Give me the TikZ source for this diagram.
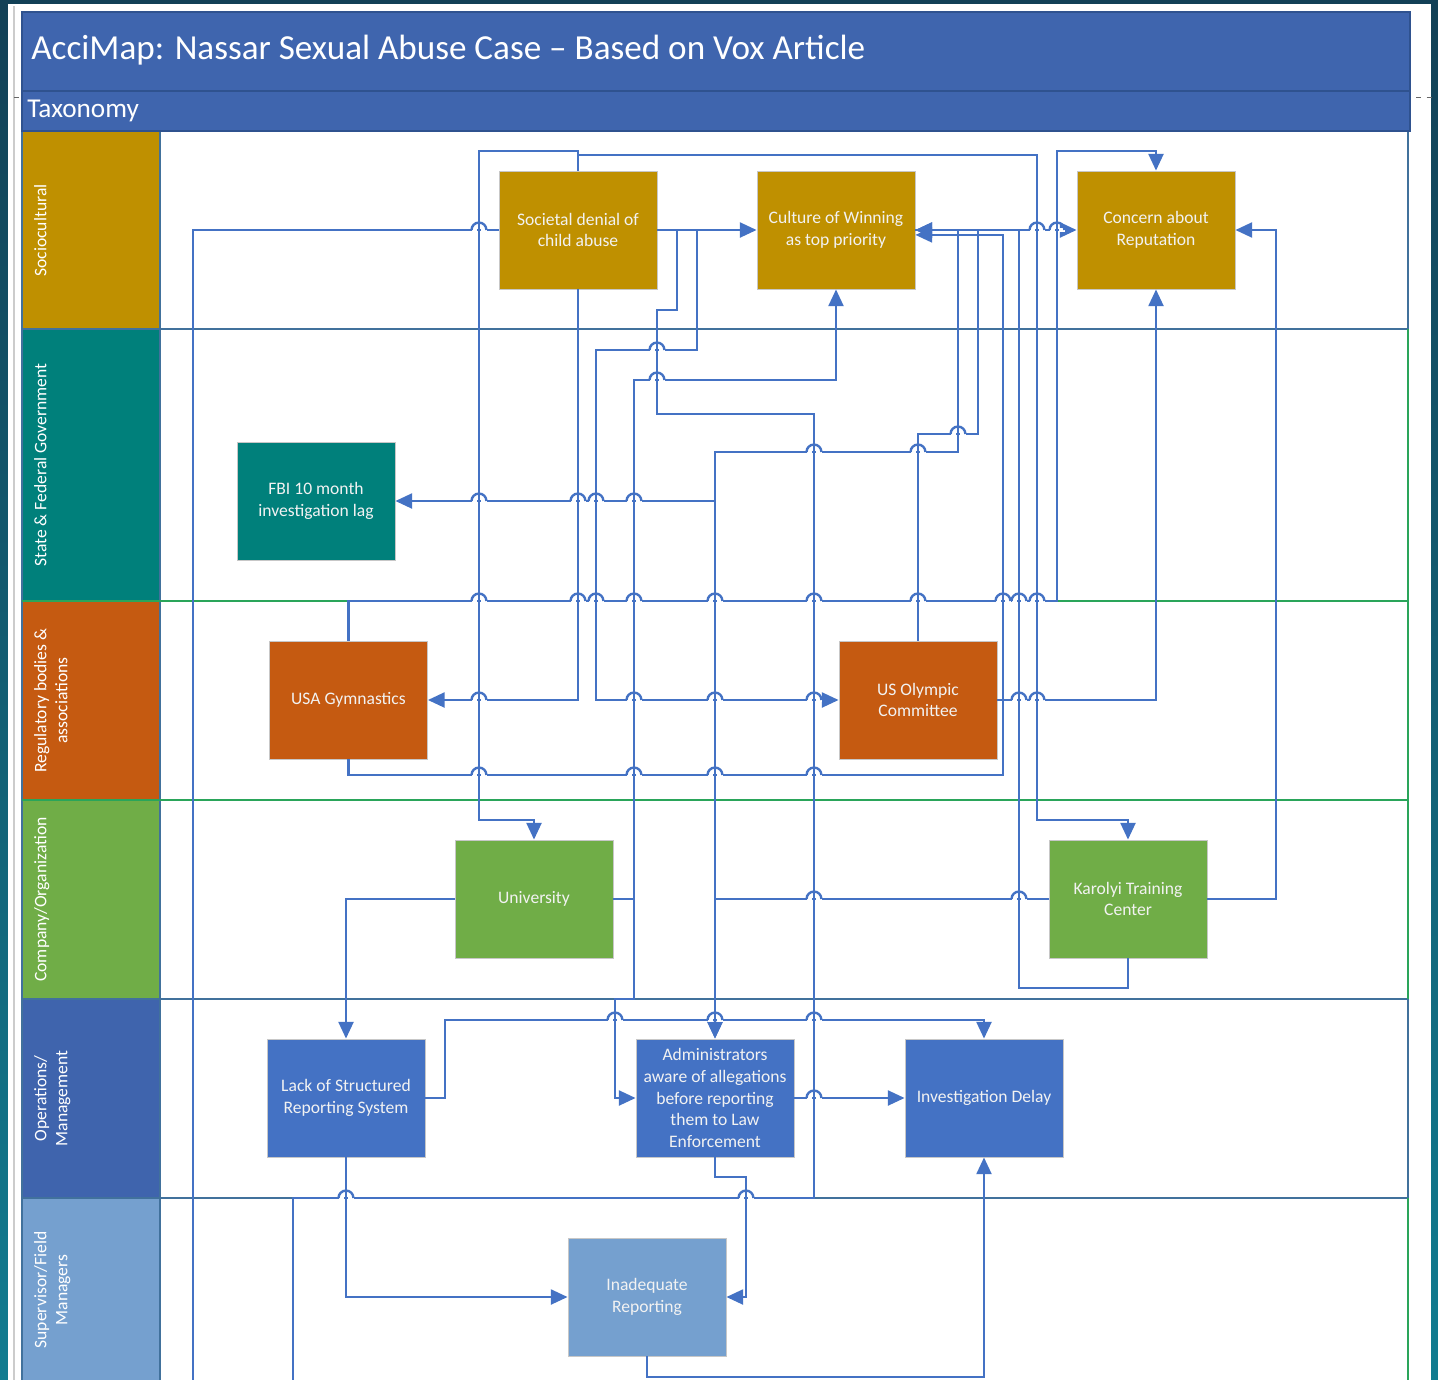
\documentclass[tikz,border=0pt]{standalone}
\usepackage{fontspec}
\setmainfont{Carlito}
\usetikzlibrary{arrows.meta}

\definecolor{linkblue}{HTML}{4472C4}
\definecolor{bandblue}{HTML}{3F65AE}
\definecolor{bandline}{HTML}{2F528F}
\definecolor{socgold}{HTML}{BF9000}
\definecolor{govteal}{HTML}{00807B}
\definecolor{regorange}{HTML}{C55A11}
\definecolor{orggreen}{HTML}{70AD47}
\definecolor{opsblue}{HTML}{3F64AD}
\definecolor{supblue}{HTML}{75A0CF}
\definecolor{lanegreen}{HTML}{2AA55A}
\definecolor{lanedark}{HTML}{41719C}
\definecolor{frameteal}{HTML}{17506B}

\tikzset{
  cause/.style={draw=black!22, line width=0.5pt, minimum width=3.16cm, minimum height=2.36cm,
    inner sep=1pt, align=center, text=white!95!black, font=\fontsize{10}{12.4}\selectfont},
  lanelabel/.style={rotate=90, anchor=north, align=center, inner sep=1pt, text=white,
    font=\fontsize{10}{12}\selectfont},
  link/.style={draw=linkblue, line width=1.35pt},
  arrowed/.style={-{Triangle[length=9.5pt,width=8.5pt]}},
}

% one swimlane: top, bottom, colour, label, name
\newcommand{\drawlane}[5]{%
  \fill[#3] (22,#1) rectangle (160,#2);
  \node[lanelabel] (#5) at (32,{(#1+#2)/2}) {#4};
}

\begin{document}
\begin{tikzpicture}[x=0.02cm, y=-0.02cm]
\useasboundingbox (0,0) rectangle (1438,1380);

% frame
\shade[top color=frameteal!80!black, bottom color=frameteal!75!cyan] (0,0) rectangle (1438,1380);
\fill[white] (8,4) rectangle (1431,1380);
\draw[black!20, line width=0.6pt] (14,6) -- (14,1380);
\draw[black!60, dashed, line width=0.5pt] (14,97) -- (1432,97);

% title and taxonomy bands
\fill[bandblue] (22,12) rectangle (1410,131);
\draw[bandline, line width=0.8pt] (22,12) rectangle (1410,131) (22,91) -- (1410,91);
\node[anchor=west, inner sep=0, text=white, font=\fontsize{20}{24}\selectfont] (title) at (31,50)
  {AcciMap: Nassar Sexual Abuse Case – Based on Vox Article};
\node[anchor=west, inner sep=0, text=white, font=\fontsize{15.5}{18}\selectfont] (taxonomy) at (27,111) {Taxonomy};

% lanes
\drawlane{132}{329}{socgold}{Sociocultural}{lsoc}
\drawlane{329}{601}{govteal}{State \& Federal Government}{lgov}
\drawlane{601}{800}{regorange}{Regulatory bodies \&\\associations}{lreg}
\drawlane{800}{999}{orggreen}{Company/Organization}{lorg}
\drawlane{999}{1198}{opsblue}{Operations/\\Management}{lops}
\drawlane{1198}{1382}{supblue}{Supervisor/Field\\Managers}{lsup}

\draw[lanedark, line width=0.9pt] (22,132) -- (22,1382) (160,132) -- (160,1382)
  (22,329) -- (1408,329) (22,999) -- (1408,999) (22,1198) -- (1408,1198)
  (1408,132) -- (1408,329) (1408,999) -- (1408,1198);
\draw[lanegreen, line width=0.9pt] (22,601) -- (1408,601) (22,800) -- (1408,800)
  (1408,329) -- (1408,999) (1408,1198) -- (1408,1382);

% causal factors
\node[cause, fill=socgold] (denial) at (578,230) {Societal denial of\\child abuse};
\node[cause, fill=socgold] (winning) at (836,230) {Culture of Winning\\as top priority};
\node[cause, fill=socgold] (reputation) at (1156,230) {Concern about\\Reputation};
\node[cause, fill=govteal] (fbi) at (316,501) {FBI 10 month\\investigation lag};
\node[cause, fill=regorange] (usag) at (348.5,700) {USA Gymnastics};
\node[cause, fill=regorange] (usoc) at (918,700) {US Olympic\\Committee};
\node[cause, fill=orggreen] (univ) at (534,899) {University};
\node[cause, fill=orggreen] (karolyi) at (1128,899) {Karolyi Training\\Center};
\node[cause, fill=linkblue] (lackrep) at (346,1098) {Lack of Structured\\Reporting System};
\node[cause, fill=linkblue] (admins) at (715,1098) {Administrators\\aware of allegations\\before reporting\\them to Law\\Enforcement};
\node[cause, fill=linkblue] (invdelay) at (984,1098) {Investigation Delay};
\node[cause, fill=supblue] (inadrep) at (647,1297) {Inadequate\\Reporting};

\coordinate (exitA) at (193,1382);
\coordinate (exitB) at (293,1382);
\coordinate (fbijoin) at (715,501);
\coordinate (ktcjoin) at (1019,230);

% links
\draw[link, arrowed] (denial.north) |- (479,151) |- (534,820) -- (univ.north);
\draw[link, arrowed] (denial.north) |- (1037,155) |- (1128,820) -- (karolyi.north);
\draw[link, arrowed] (denial.south) |- (usag.east);
\draw[link, arrowed] (denial.east) -- (winning.west);
\draw[link] (denial.east) -| (677,310) -| (657,414) -| (814,1198) -| (exitB);
\draw[link, arrowed] (denial.east) -| (697,350) -| (596,700) -- (usoc.west);
\draw[link] (exitA) |- (denial.west);
\draw[link, arrowed] (univ.east) -| (634,380) -| (winning.south);
\draw[link, arrowed] (univ.east) -| (634,999) -| (615,1098) -- (admins.west);
\draw[link, arrowed] (univ.west) -| (lackrep.north);
\draw[link, arrowed] (lackrep.east) -| (445,1020) -| (invdelay.north);
\draw[link, arrowed] (winning.east) -| (958,452) -| (admins.north);
\draw[link, arrowed] (fbijoin) -- (fbi.east);
\draw[link, arrowed] (usoc.north) |- (978,434) |- (winning.east);
\draw[link, arrowed] (usag.south) |- (1003,775) |- ([yshift=-2.8pt]winning.east);
\draw[link, arrowed] (usag.north) |- (1057,601) |- (1156,151) -- (reputation.north);
\draw[link, arrowed] (usoc.east) -| (reputation.south);
\draw[link, arrowed] (karolyi.east) -| (1276,230) -- (reputation.east);
\draw[link, arrowed] (karolyi.south) |- (1019,988) |- (reputation.west);
\draw[link, arrowed] (ktcjoin) -- (winning.east);
\draw[link, arrowed] (karolyi.west) -| (admins.north);
\draw[link, arrowed] (admins.east) -- (invdelay.west);
\draw[link, arrowed] (admins.south) |- (746,1177) |- (inadrep.east);
\draw[link, arrowed] (lackrep.south) |- (inadrep.west);
\draw[link, arrowed] (inadrep.south) |- (984,1377) -- (invdelay.south);

% line jumps
\foreach \hx/\hy in {479/230, 1037/230, 1057/230, 657/350, 657/380, 958/434, 814/452, 918/452,
  479/501, 578/501, 596/501, 634/501,
  479/601, 578/601, 596/601, 634/601, 715/601, 814/601, 918/601, 1003/601, 1019/601, 1037/601,
  479/700, 634/700, 715/700, 814/700, 1019/700, 1037/700,
  479/775, 634/775, 715/775, 814/775, 814/899, 1019/899,
  615/1020, 715/1020, 814/1020, 814/1098, 346/1198, 746/1198} {
  \draw[white, line width=2.4pt] (\hx-7.5,\hy) -- (\hx-1.8,\hy) (\hx+1.8,\hy) -- (\hx+7.5,\hy);
  \draw[link] (\hx-7.5,\hy) arc[start angle=180, end angle=0, radius=4.25pt];
}

\end{tikzpicture}
\end{document}
